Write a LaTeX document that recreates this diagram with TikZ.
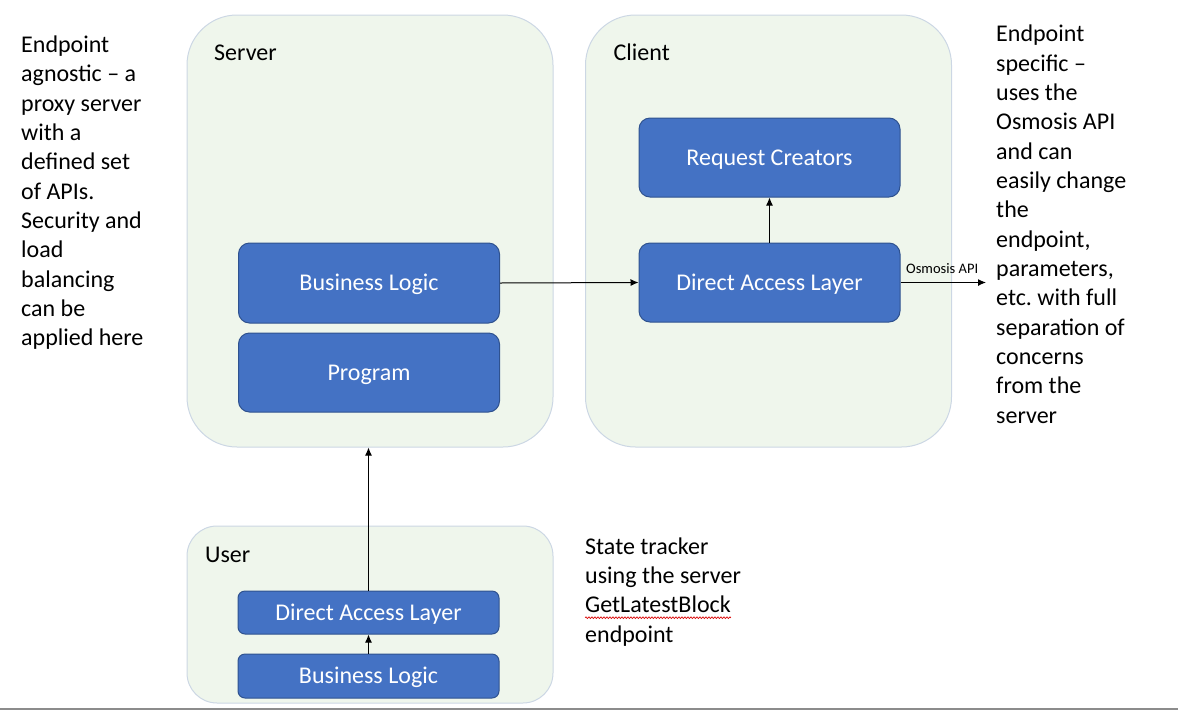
\documentclass[tikz,border=0pt]{standalone}
\usepackage{fontspec}
\setmainfont{Carlito}
\usepackage{tikz}
\usetikzlibrary{arrows.meta,decorations.pathmorphing}
\definecolor{panelfill}{HTML}{EFF6EC}
\definecolor{panelline}{HTML}{CCD7E4}
\definecolor{boxfill}{HTML}{4472C4}
\definecolor{boxline}{HTML}{2F528F}
\newcommand{\slidefont}{\fontsize{24}{29.3}\selectfont}
\frenchspacing
\tikzset{
  panel/.style = {draw=panelline, fill=panelfill, line width=1pt,
    inner sep=0pt, minimum width=366pt},% cadre vert pale
  blockbox/.style = {draw=boxline, fill=boxfill, text=white, line width=1pt,
    font=\slidefont, text height=15.5pt, text depth=0pt, inner sep=0pt,
    minimum width=261pt},% bloc bleu
  frametitle/.style = {anchor=base west, inner sep=0pt, font=\slidefont},
  note/.style = {anchor=base west, inner sep=0pt, font=\slidefont},
  apilabel/.style = {anchor=base west, inner sep=0pt,
    font=\fontsize{14.5}{17}\selectfont},
  link/.style = {-{Latex[length=8pt,width=7pt]}, line width=1pt},
  spellmark/.style = {draw=red!85!black, line width=0.7pt, decorate,
    decoration={snake, amplitude=0.8pt, segment length=3pt}}
}

\begin{document}
\begin{tikzpicture}[x=1pt, y=-1pt]
  \useasboundingbox (0,0) rectangle (1178,710);
  % cadres
  \node [panel, rounded corners=50pt, minimum height=432pt] (server) at (370,231) {};
  \node [panel, rounded corners=50pt, minimum height=432pt] (client) at (768.5,231) {};
  \node [panel, rounded corners=30pt, minimum height=177pt] (user) at (370,614.5) {};
  \node [frametitle] (servertitle) at (214,60) {Server};
  \node [frametitle] (clienttitle) at (613.5,60) {Client};
  \node [frametitle] (usertitle) at (205,562) {User};
  % blocs
  \node [blockbox, rounded corners=11pt, minimum height=80pt] (serverlogic) at (369,283) {Business Logic};
  \node [blockbox, rounded corners=11pt, minimum height=79pt] (program) at (369,372.5) {Program};
  \node [blockbox, rounded corners=11pt, minimum height=79pt] (creators) at (769.5,157.5) {Request Creators};
  \node [blockbox, rounded corners=11pt, minimum height=79pt] (clientdal) at (769.5,282.5) {Direct Access Layer};
  \node [blockbox, rounded corners=7pt, minimum height=43pt] (userdal) at (368.5,612.5) {Direct Access Layer};
  \node [blockbox, rounded corners=7pt, minimum height=44pt] (userlogic) at (368.5,676) {Business Logic};
  % fleches
  \coordinate (apiend) at (986,282.5);
  \draw [link] (serverlogic.east) -- (clientdal.west);
  \draw [link] (clientdal.north) -- (creators.south);
  \draw [link] (clientdal.east) -- (apiend);
  \node [apilabel] (apiname) at (906,273.5) {Osmosis API};
  \draw [link] (userdal.north) -- (userdal.north |- server.south);
  \draw [link] (userlogic.north) -- (userdal.south);
  % textes
  \foreach \txt [count=\i] in {Endpoint, agnostic -- a, proxy server, with a,
      defined set, of APIs., Security and, load, balancing, can be, applied here}
    \node [note] (leftnote-\i) at (21,{52.3+29.35*(\i-1)}) {\txt};
  \foreach \txt [count=\i] in {Endpoint, specific --, uses the, Osmosis API,
      and can, easily change, the, {endpoint,}, {parameters,}, etc. with full,
      separation of, concerns, from the, server}
    \node [note] (rightnote-\i) at (996,{41.7+29.35*(\i-1)}) {\txt};
  \foreach \txt [count=\i] in {State tracker, using the server, GetLatestBlock, endpoint}
    \node [note] (usernote-\i) at (585,{554+29.35*(\i-1)}) {\txt};
  \draw [spellmark] ([yshift=-5pt]usernote-3.base west) -- ([yshift=-5pt]usernote-3.base east);
  % bord du cadre
  \draw [black!45, line width=1.7pt] (0,709) -- (1178,709);
\end{tikzpicture}
\end{document}
